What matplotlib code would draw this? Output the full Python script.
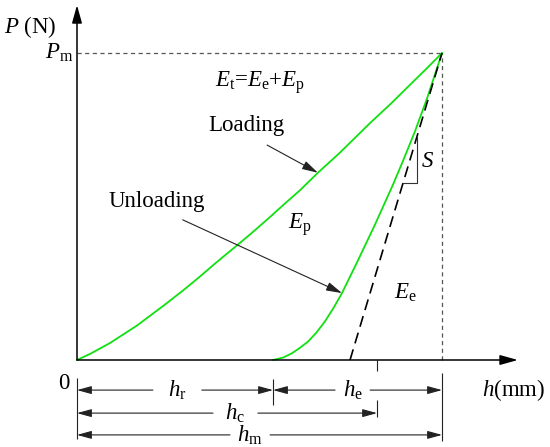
import matplotlib
matplotlib.use('Agg')
import matplotlib.pyplot as plt
import numpy as np

plt.rcParams['font.family'] = ['Liberation Serif', 'DejaVu Serif']
plt.rcParams['mathtext.fontset'] = 'custom'
plt.rcParams['mathtext.rm'] = 'Liberation Serif'
plt.rcParams['mathtext.it'] = 'Liberation Serif:italic'
plt.rcParams['lines.scale_dashes'] = False

### Curve data (normalised: h / hm, P / Pm)
load_h = [0.0, 0.036, 0.090, 0.164, 0.236, 0.290, 0.332, 0.380, 0.438, 0.480,
          0.529, 0.570, 0.611, 0.660, 0.720, 0.803, 0.860, 0.912, 0.960, 1.0]
load_P = [0.0, 0.020, 0.055, 0.112, 0.176, 0.226, 0.267, 0.316, 0.373, 0.415,
          0.466, 0.510, 0.553, 0.610, 0.675, 0.772, 0.835, 0.896, 0.952, 1.0]
unload_h = [0.537, 0.565, 0.589, 0.610, 0.633, 0.655, 0.679, 0.703, 0.726,
            0.770, 0.816, 0.866, 0.893, 0.926, 0.959, 1.0]
unload_P = [0.0, 0.008, 0.022, 0.039, 0.060, 0.088, 0.125, 0.170, 0.218,
            0.325, 0.440, 0.572, 0.648, 0.745, 0.852, 1.0]

### Characteristic depths / load
Pm = 1.0
hm = 1.0
hr = 0.537
hc = 0.822
h0 = 0.748   # tangent intercept

green = '#10e010'
fs = 16.5

fig = plt.figure(figsize=(5.5,4.47),dpi=100)
ax = fig.add_axes([0,0,1,1])
ax.set_xlim(-77/365,473/365)
ax.set_ylim(-87/307,360/307)
ax.axis('off')

### Axes with arrows
ax.annotate('',xy=(0,1.156),xytext=(0,0),
            arrowprops=dict(arrowstyle='-|>,head_length=0.9,head_width=0.25',
                            color='k',lw=1.1,shrinkA=0,shrinkB=0,mutation_scale=12))
ax.annotate('',xy=(1.208,0),xytext=(0,0),
            arrowprops=dict(arrowstyle='-|>,head_length=0.9,head_width=0.25',
                            color='k',lw=1.1,shrinkA=0,shrinkB=0,mutation_scale=12))

### Pm guide lines
ax.plot([0,hm],[Pm,Pm],color='#555555',lw=0.9,ls=(0,(3,2.5)))
ax.plot([hm,hm],[0,Pm],color='#555555',lw=0.9,ls=(0,(3,2.5)))

### Curves
ax.plot(load_h,load_P,color=green,lw=1.3,solid_capstyle='round',solid_joinstyle='round')
ax.plot(unload_h,unload_P,color=green,lw=1.3,solid_capstyle='round',solid_joinstyle='round')

### Tangent (stiffness) line
ax.plot([h0,hm],[0,Pm],color='k',lw=1.2,ls=(0,(8,4.5)))

### Slope triangle
Ps = 0.577
hs = h0 + (hm-h0)*Ps
ht = 0.932
Pt = (ht-h0)/(hm-h0)
ax.plot([hs,ht,ht],[Ps,Ps,Pt],color='#333333',lw=0.8)
ax.text(0.959,0.645,'$S$',fontsize=fs,ha='center',va='center')

### Labels
ax.text(-0.129,1.085,'$P$ (N)',fontsize=fs,ha='center',va='center')
ax.text(-0.011,1.0,r'$P_{\mathrm{m}}$',fontsize=fs,ha='right',va='center')
ax.text(-0.036,-0.075,'0',fontsize=fs,ha='center',va='center')
ax.text(1.197,-0.098,'$h$(mm)',fontsize=fs,ha='center',va='center')
ax.text(0.501,0.902,r'$E_{\mathrm{t}}$=$E_{\mathrm{e}}$+$E_{\mathrm{p}}$',
        fontsize=fs,ha='center',va='center')
ax.text(0.611,0.440,r'$E_{\mathrm{p}}$',fontsize=fs,ha='center',va='center')
ax.text(0.901,0.218,r'$E_{\mathrm{e}}$',fontsize=fs,ha='center',va='center')

ax.annotate('Loading',xy=(load_h[13],load_P[13]),xytext=(0.463,0.765),
            fontsize=fs,ha='center',va='center',
            arrowprops=dict(arrowstyle='-|>,head_length=0.8,head_width=0.22',
                            color='#222222',lw=0.8,shrinkA=10,shrinkB=0,
                            mutation_scale=12,relpos=(0.55,0.0)))
ax.annotate('Unloading',xy=(unload_h[8],unload_P[8]),xytext=(0.219,0.515),
            fontsize=fs,ha='center',va='center',
            arrowprops=dict(arrowstyle='-|>,head_length=0.8,head_width=0.22',
                            color='#222222',lw=0.8,shrinkA=8,shrinkB=0,
                            mutation_scale=12,relpos=(0.6,0.0)))

### Dimension lines
dimc = '#222222'
astyle = '-|>,head_length=0.8,head_width=0.22'

def dim_line(x0,x1,y,label,xc,gap):
    ax.annotate('',xy=(x0,y),xytext=(xc-gap/2,y),
                arrowprops=dict(arrowstyle=astyle,color=dimc,lw=0.8,
                                shrinkA=0,shrinkB=0,mutation_scale=11))
    ax.annotate('',xy=(x1,y),xytext=(xc+gap/2,y),
                arrowprops=dict(arrowstyle=astyle,color=dimc,lw=0.8,
                                shrinkA=0,shrinkB=0,mutation_scale=11))
    ax.text(xc,y,label,fontsize=fs,ha='center',va='center')

ax.vlines(0,-0.257,-0.059,color=dimc,lw=0.8)
ax.vlines(hr,-0.147,-0.062,color=dimc,lw=0.8)
ax.vlines(hc,-0.036,0,color=dimc,lw=0.8)
ax.vlines(hc,-0.186,-0.130,color=dimc,lw=0.8)
ax.vlines(hm,-0.264,-0.042,color=dimc,lw=0.8)

dim_line(0,hr,-0.098,r'$h_{\mathrm{r}}$',0.275,0.134)
dim_line(hr,hm,-0.098,r'$h_{\mathrm{e}}$',0.755,0.096)
dim_line(0,hc,-0.173,r'$h_{\mathrm{c}}$',0.434,0.123)
dim_line(0,hm,-0.244,r'$h_{\mathrm{m}}$',0.474,0.110)

plt.savefig('out.png',dpi=100)
